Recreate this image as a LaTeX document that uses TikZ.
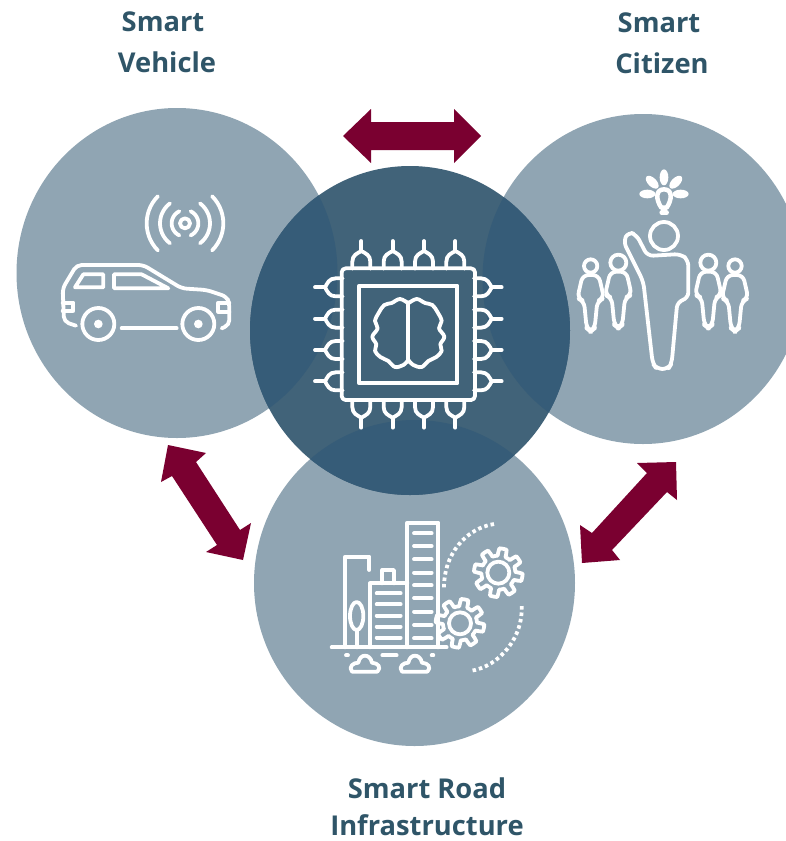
\documentclass[tikz,border=0pt]{standalone}
\usepackage{fontspec}
\setmainfont{Open Sans}
\usetikzlibrary{positioning,shapes.geometric}
\definecolor{lightblue}{HTML}{90A5B3}
\definecolor{midblue}{HTML}{416379}
\definecolor{deepblue}{HTML}{365C78}
\definecolor{wine}{HTML}{7A0030}
\definecolor{titleblue}{HTML}{2F5568}
\tikzset{
    outer/.style={
           ellipse,
           fill=lightblue,
           inner sep=0pt,
           minimum width=321pt,
           minimum height=330pt,
           },
    core/.style={
           ellipse,
           fill=midblue,
           inner sep=0pt,
           minimum width=320pt,
           minimum height=329pt,
           },
    title/.style={
           text=titleblue,
           font=\fontsize{27.3}{30}\selectfont\bfseries,
           inner sep=0pt,
           },
    icon/.style={
           draw=white,
           line width=3.8pt,
           line join=round,
           line cap=round,
           },
    dots/.style={
           icon,
           line cap=butt,
           dash pattern=on 3.5pt off 3pt,
           },
    twohead/.style={
           fill=wine,
           },
}

\begin{document}
\begin{tikzpicture}[x=1pt,y=-1pt]
\clip (0,0) rectangle (786,841);
\fill[white] (0,0) rectangle (786,841);
% circles
\node[outer] (vehicle) at (177,273) {};
\node[outer] (citizen) at (643,279) {};
\node[outer,minimum height=326pt] (road) at (414.5,583) {};
\node[core] (chip) at (410,330.5) {};
\begin{scope}
\clip (410,330.5) ellipse (160 and 164.5);
\fill[deepblue] (177,273) ellipse (160.5 and 165);
\fill[deepblue] (643,279) ellipse (160.5 and 165);
\fill[deepblue] (414.5,583) ellipse (160.5 and 163);
\end{scope}
% titles
\node[title] (t1a) at (163,22) {Smart};
\node[title] (t1b) at (167,62) {Vehicle};
\node[title] (t2a) at (659,23) {Smart};
\node[title] (t2b) at (662,63) {Citizen};
\node[title] (t3a) at (427,788) {Smart Road};
\node[title] (t3b) at (427,825) {Infrastructure};
% arrows
\fill[twohead] (343,136) -- (371,109) -- (371,122) -- (454,122) -- (454,109) -- (481,136) -- (454,163) -- (454,150) -- (371,150) -- (371,163) -- cycle;
\fill[twohead] (168,445) -- (206,453) -- (196,462) -- (240,530) -- (251,523) -- (243,560) -- (206,552) -- (217,545) -- (172,476) -- (161,482) -- cycle;
\fill[twohead] (676,462) -- (677,500) -- (667,492) -- (612,550) -- (620,560) -- (582,563) -- (580,525) -- (592,533) -- (647,473) -- (637,463) -- cycle;
% car
\begin{scope}[shift={(40,180)},scale=1/3]
\draw[icon] (435,130) circle (15);
\foreach \r/\w in {40/65,75/53,115/45}{
  \draw[icon] plot[domain=-\w:\w,samples=15] ({435+\r*cos(\x)},{130+\r*sin(\x)});
  \draw[icon] plot[domain=-\w:\w,samples=15] ({435-\r*cos(\x)},{130+\r*sin(\x)});
}
\draw[icon,rounded corners=5pt] (108,437) -- (72,425) -- (68,325) -- (110,255) -- (310,255) -- (425,325) -- (500,330) -- (560,350) -- (568,370) -- (568,435) -- (545,445);
\draw[icon] (175,432) circle (48);
\draw[icon] (475,432) circle (48);
\fill[white] (175,432) circle (13);
\fill[white] (475,432) circle (13);
\draw[icon] (245,445) -- (410,445);
\draw[icon] (105,322) -- (130,283) -- (190,283) -- (190,322) -- cycle;
\draw[icon] (222,283) -- (305,283) -- (385,325) -- (222,325) -- cycle;
\draw[icon] (68,368) -- (100,368) -- (100,392) -- (68,392);
\draw[icon] (568,368) -- (535,368) -- (535,395) -- (568,395);
\end{scope}
% chip
\begin{scope}[shift={(300,225)},scale=1/3]
\draw[icon,rounded corners=4pt] (125,130) rectangle (525,525);
\draw[icon,line cap=butt] (178,182) rectangle (472,475);
\foreach \a in {0,90,180,270}{
  \foreach \d in {-141,-47,47,141}{
    \begin{scope}[shift={(325,328)},rotate=\a]
    \draw[icon] (\d-27,-197) -- (\d-27,-218) .. controls (\d-27,-238) and (\d-12,-243) .. (\d,-250) .. controls (\d+12,-243) and (\d+27,-238) .. (\d+27,-218) -- (\d+27,-197);
    \draw[icon] (\d,-250) -- (\d,-280);
    \end{scope}
  }
}
\draw[icon] (325,232) -- (325,410);
\foreach \s in {1,-1}{
  \begin{scope}[shift={(325,0)},xscale=\s]
  \draw[icon] plot[smooth,tension=.6] coordinates {(0,235) (-25,222) (-50,234) (-72,240) (-88,262) (-100,288) (-92,310) (-108,335) (-96,358) (-100,378) (-84,396) (-60,408) (-40,426) (-15,420) (0,405)};
  \end{scope}
}
\end{scope}
% citizens
\begin{scope}[shift={(560,160)},scale=1/3]
\foreach \r in {0,-45,-90,-135,-180}{
  \fill[white,rotate around={\r:(312,102)}] (262,102) ellipse (24 and 13);
}
\draw[icon,line width=4.5pt,fill=lightblue] (312,88) .. controls (285,88) and (288,120) .. (304,143) -- (320,143) .. controls (336,120) and (339,88) .. (312,88) -- cycle;
\draw[icon,line width=4.5pt] (305,158) -- (320,158);
\draw[icon] (312,228) circle (42);
\draw[icon,rounded corners=6pt] (262,288) -- (230,225) -- (205,215) -- (190,245) -- (250,365) -- (278,610) -- (290,627) -- (325,627) -- (335,610) -- (352,425) -- (385,415) -- (385,300) -- (362,282) -- cycle;
\foreach \px/\py/\pr in {92/345/20,175/335/24,445/335/24,525/345/20}{
  \draw[icon] (\px,\py-27) circle (\pr);
  \begin{scope}[shift={(\px,\py)}]
  \draw[icon,rounded corners=6pt] (-24,0) -- (24,0) -- (40,70) -- (20,78) -- (12,160) -- (0,170) -- (-12,160) -- (-20,78) -- (-40,70) -- cycle;
  \end{scope}
}
\end{scope}
% city
\begin{scope}[shift={(320,510)},scale=1/3]
\draw[icon] (35,412) -- (380,412);
\draw[icon] (262,412) -- (262,38) -- (355,38) -- (355,412);
\foreach \y in {70,108,148,188,226,264,305,345,385}{
  \draw[icon] (282,\y) -- (335,\y);
}
\draw[icon] (150,412) -- (150,220) -- (262,220);
\draw[icon] (187,220) -- (187,180) -- (222,180) -- (222,220);
\foreach \y in {250,283,317,350,383}{
  \draw[icon] (170,\y) -- (242,\y);
}
\draw[icon] (75,412) -- (75,140) -- (148,140) -- (148,180);
\draw[icon] (110,318) ellipse (20 and 42);
\draw[icon] (110,360) -- (110,412);
\draw[icon] (78,436) -- (84,436);
\draw[icon] (187,436) -- (230,436);
\draw[icon] (335,436) -- (340,436);
\foreach \c in {0,150}{
  \begin{scope}[shift={(\c,0)}]
  \draw[icon] (96,485) .. controls (84,470) and (100,458) .. (115,458) .. controls (120,430) and (150,430) .. (156,458) .. controls (175,460) and (185,472) .. (172,485) -- cycle;
  \end{scope}
}
\foreach \gx/\gy in {535/188,420/340}{
  \draw[icon] (\gx,\gy) circle (33);
  \draw[icon] plot[domain=0:360,samples=145] ({\gx+(62+11*max(-1,min(1,3*sin(8*\x))))*cos(\x)},{\gy+(62+11*max(-1,min(1,3*sin(8*\x))))*sin(\x)});
}
\draw[dots] (522,42) .. controls (440,55) and (370,130) .. (372,238);
\draw[dots] (605,288) .. controls (610,380) and (540,470) .. (450,483);
\end{scope}
\end{tikzpicture}
\end{document}
